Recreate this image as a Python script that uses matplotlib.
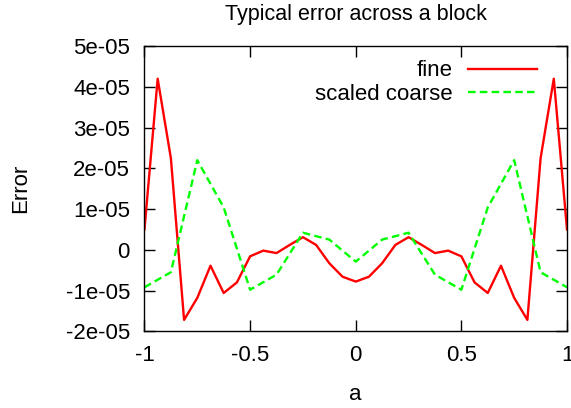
import matplotlib
matplotlib.use("Agg")
import matplotlib.pyplot as plt
from matplotlib.ticker import FuncFormatter, MultipleLocator

plt.rcParams['font.family'] = ['Liberation Sans', 'DejaVu Sans']

# fine grid: 33 points across the block, values in units of 1e-5
a_fine = [i / 16 - 1 for i in range(33)]
fine = [0.5, 4.2, 2.25, -1.72, -1.18, -0.39, -1.06, -0.8, -0.16, -0.02,
        -0.08, 0.12, 0.31, 0.12, -0.33, -0.66, -0.78,
        -0.66, -0.33, 0.12, 0.31, 0.12, -0.08, -0.02, -0.16, -0.8,
        -1.06, -0.39, -1.18, -1.72, 2.25, 4.2, 0.5]

# coarse grid: 17 points, scaled
a_coarse = [i / 8 - 1 for i in range(17)]
coarse = [-0.92, -0.55, 2.2, 1.04, -0.98, -0.61, 0.42, 0.25, -0.29,
          0.25, 0.42, -0.61, -0.98, 1.04, 2.2, -0.55, -0.92]

fine = [v * 1e-5 for v in fine]
coarse = [v * 1e-5 for v in coarse]

fig = plt.figure(figsize=(5.71, 4.08), dpi=100)
ax = fig.add_axes([0.253, 0.188, 0.740, 0.699])

ax.plot(a_fine, fine, color='#ff0000', lw=1.7, label='fine')
ax.plot(a_coarse, coarse, color='#00ff00', lw=1.7, ls=(0, (3.2, 1.8)),
        label='scaled coarse')

ax.set_xlim(-1, 1)
ax.set_ylim(-2e-5, 5e-5)
ax.xaxis.set_major_locator(MultipleLocator(0.5))
ax.yaxis.set_major_locator(MultipleLocator(1e-5))
ax.xaxis.set_major_formatter(FuncFormatter(lambda v, p: f"{v:g}"))
ax.yaxis.set_major_formatter(FuncFormatter(lambda v, p: f"{round(v, 10):g}"))
ax.tick_params(direction='in', length=8, width=1, top=True, right=True,
               labelsize=16)
ax.tick_params(axis='y', pad=10.5)
ax.tick_params(axis='x', pad=10)
for s in ax.spines.values():
    s.set_linewidth(1)

ax.set_title('Typical error across a block', fontsize=15.5, pad=19)
ax.set_xlabel('a', fontsize=16, labelpad=13)
ax.set_ylabel('Error', fontsize=16, labelpad=25)

ax.legend(loc='upper right', bbox_to_anchor=(0.929, 0.95), frameon=False,
          markerfirst=False, fontsize=16, handlelength=3.1,
          handletextpad=0.7, labelspacing=0.1, borderaxespad=0,
          borderpad=0)

fig.savefig('out.png', dpi=100)
